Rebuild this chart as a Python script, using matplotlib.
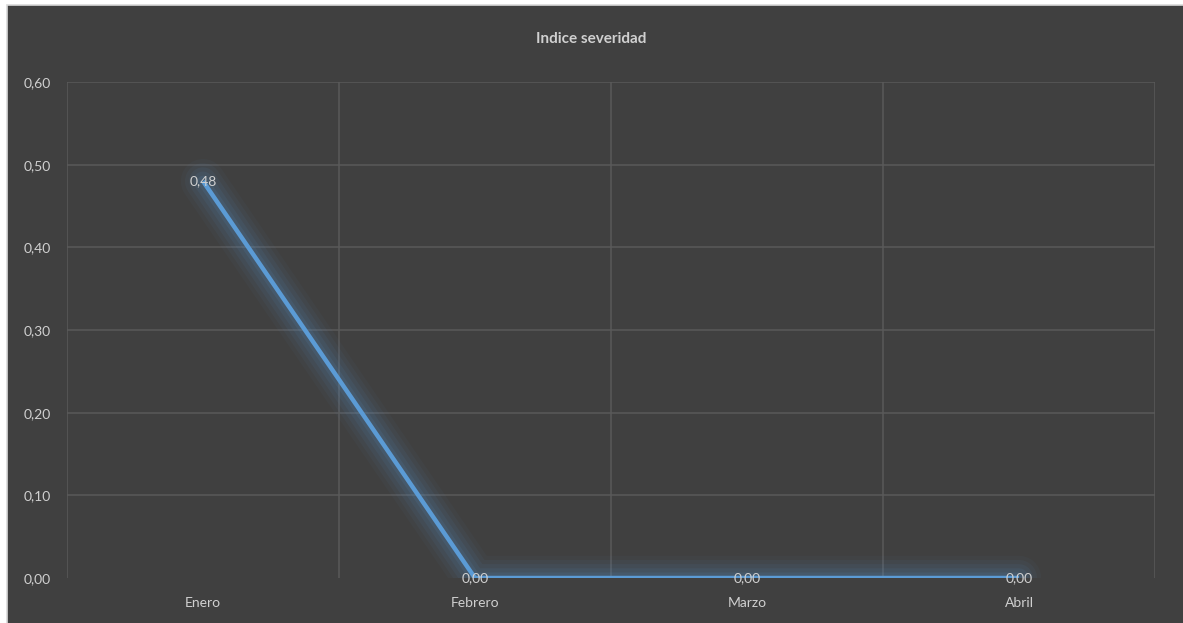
import matplotlib.pyplot as plt
from matplotlib.patches import Rectangle

months = ['Enero', 'Febrero', 'Marzo', 'Abril']
indice = [0.48, 0.00, 0.00, 0.00]
yticks = [0.0, 0.1, 0.2, 0.3, 0.4, 0.5, 0.6]

bg = '#404040'
txt = '#d0d0d0'
grid = '#5a5a5a'
blue = '#5b9bd5'

plt.rcParams['font.family'] = ['Lato', 'DejaVu Sans']

W, H = 1183, 623
fig = plt.figure(figsize=(W / 100, H / 100), dpi=100, facecolor='white')
# dark chart area with light border at left/top (right/bottom run off the edge)
fig.patches.append(Rectangle((7 / W, -0.05), 1.1, 1.05 - 5 / H, transform=fig.transFigure,
                             facecolor=bg, edgecolor='#d9d9d9', linewidth=1.2, zorder=-10))

ax = fig.add_axes([67 / W, 1 - 578 / H, (1155 - 67) / W, (578 - 82) / H])
ax.set_facecolor(bg)

x = list(range(len(months)))

# glow
for lw, a in [(32, 0.04), (26, 0.05), (20, 0.065), (14, 0.08), (8, 0.10)]:
    ax.plot(x, indice, color=blue, linewidth=lw, alpha=a, solid_capstyle='round', zorder=2)
ax.plot(x, indice, color=blue, linewidth=3.2, solid_capstyle='butt', zorder=3)

for xi, v in zip(x, indice):
    ax.text(xi, v, f'{v:.2f}'.replace('.', ','), color=txt, fontsize=10,
            ha='center', va='center', zorder=4)

ax.set_xlim(-0.5, len(months) - 0.5)
ax.set_ylim(0, 0.6)
ax.set_yticks(yticks)
ax.set_yticklabels([f'{t:.2f}'.replace('.', ',') for t in yticks])
ax.set_xticks(x)
ax.set_xticklabels(months)

for xb in [i - 0.5 for i in range(len(months) + 1)]:
    ax.axvline(xb, color=grid, linewidth=1.1, zorder=1)
for yt in yticks[1:]:
    ax.axhline(yt, color=grid, linewidth=1.1, zorder=1)

ax.tick_params(axis='both', length=0, colors=txt, labelsize=10)
ax.tick_params(axis='x', pad=14)
ax.tick_params(axis='y', pad=31)
for lab in ax.get_yticklabels():
    lab.set_horizontalalignment('left')
for s in ax.spines.values():
    s.set_visible(False)

fig.text(0.5, 1 - 39 / H, 'Indice severidad', color=txt, fontsize=11,
         fontweight='bold', ha='center', va='center')

fig.savefig('out.png', dpi=100, facecolor='white')
